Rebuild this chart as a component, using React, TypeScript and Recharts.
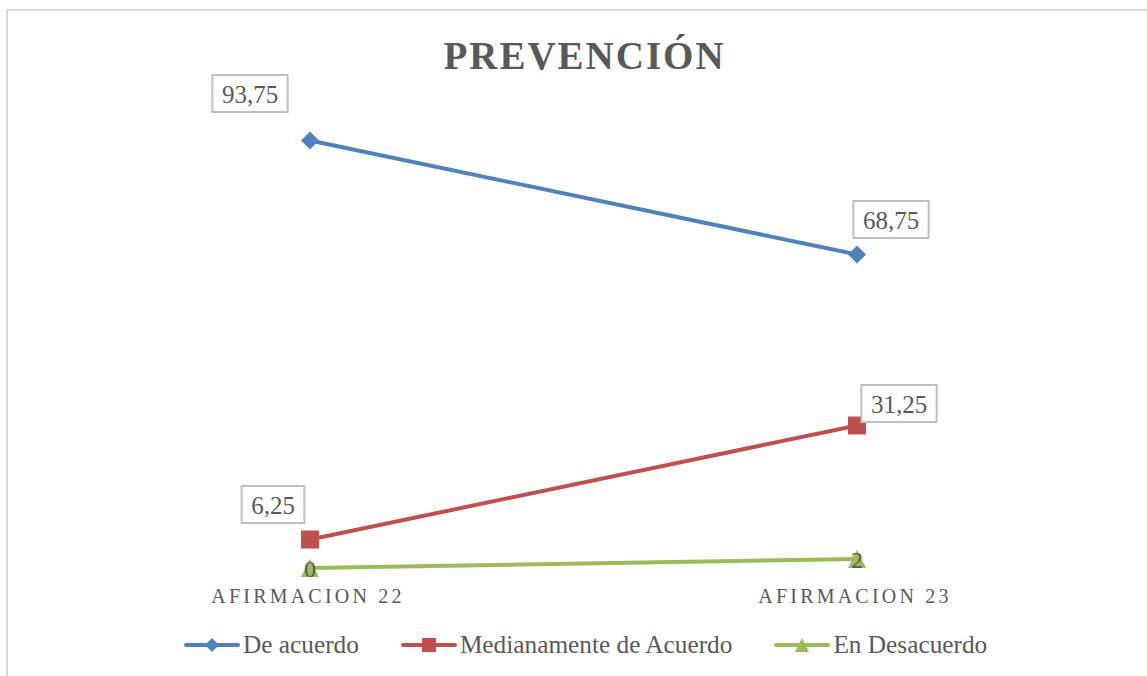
import { LineChart, Line, XAxis, YAxis, LabelList } from "recharts";

// categorías y series
const categories = ["AFIRMACION 22", "AFIRMACION 23"];
const deAcuerdo = [93.75, 68.75];
const medianamente = [6.25, 31.25];
const enDesacuerdo = [0, 2];

const seriesNames = ["De acuerdo", "Medianamente de Acuerdo", "En Desacuerdo"];

const data = categories.map((cat, i) => ({
  cat,
  a: deAcuerdo[i],
  m: medianamente[i],
  d: enDesacuerdo[i]
}));

const BLUE = "#4F81BD";
const RED = "#C0504D";
const GREEN = "#9BBB59";
const TEXT = "#595959";
const FONT = "'Liberation Serif', 'DejaVu Serif', serif";

const fmt = (v: number) => String(v).replace(".", ",");

// posición de la etiqueta respecto al punto (estilo, no datos)
const labelOffsets: Record<string, [number, number][]> = {
  a: [[-60, -47], [34, -35]],
  m: [[-37, -35], [42, -22]]
};

function boxedLabel(key: string) {
  return (props: any) => {
    const { x, y, value, index } = props;
    const [dx, dy] = labelOffsets[key][index];
    const txt = fmt(value);
    const digits = txt.replace(",", "").length;
    const w = digits * 12.5 + 6.25 + 19;
    const h = 37;
    const cx = x + dx;
    const cy = y + dy;
    return (
      <g>
        <rect x={cx - w / 2} y={cy - h / 2} width={w} height={h} fill="#fff" stroke="#BFBFBF" strokeWidth={2} />
        <text x={cx} y={cy + 9} textAnchor="middle" fontSize={25} fontFamily={FONT} fill={TEXT}>
          {txt}
        </text>
      </g>
    );
  };
}

const plainLabel = (props: any) => {
  const { x, y, value } = props;
  return (
    <text x={x} y={y + 9} textAnchor="middle" fontSize={24} fontFamily={FONT} fill={TEXT}>
      {fmt(value)}
    </text>
  );
};

const Diamond = ({ cx, cy, r = 9 }: any) => (
  <path d={`M${cx},${cy - r}L${cx + r},${cy}L${cx},${cy + r}L${cx - r},${cy}Z`} fill={BLUE} />
);
const Square = ({ cx, cy, s = 18 }: any) => (
  <rect x={cx - s / 2} y={cy - s / 2} width={s} height={s} fill={RED} />
);
const Triangle = ({ cx, cy, s = 18 }: any) => (
  <path d={`M${cx},${cy - s / 2}L${cx + s / 2},${cy + s / 2}L${cx - s / 2},${cy + s / 2}Z`} fill={GREEN} />
);

const XTick = ({ x, payload }: any) => (
  <text x={x - 2} y={603} textAnchor="middle" fontSize={20} letterSpacing={3.2} fontFamily={FONT} fill={TEXT}>
    {payload.value}
  </text>
);

function LegendIcon({ color, Marker }: any) {
  return (
    <svg width={56} height={20} style={{ display: "block" }}>
      <line x1={2} y1={10} x2={54} y2={10} stroke={color} strokeWidth={4} strokeLinecap="round" />
      <Marker cx={28} cy={10} r={7} s={14} />
    </svg>
  );
}

export default function App() {
  const legendItems = [
    { name: seriesNames[0], color: BLUE, Marker: Diamond },
    { name: seriesNames[1], color: RED, Marker: Square },
    { name: seriesNames[2], color: GREEN, Marker: Triangle }
  ];

  return (
    <div style={{ position: "absolute", left: 0, top: 0, width: 1147, height: 676, overflow: "hidden", background: "#fff" }}>
      <div
        style={{
          position: "absolute",
          left: 6,
          top: 9,
          width: 1200,
          height: 720,
          border: "2px solid #D9D9D9",
          boxSizing: "border-box"
        }}
      />
      <div
        style={{
          position: "absolute",
          left: 0,
          width: 1169,
          top: 31,
          textAlign: "center",
          fontFamily: FONT,
          fontWeight: "bold",
          fontSize: 39,
          letterSpacing: 2,
          color: TEXT,
          lineHeight: "50px"
        }}
      >
        PREVENCIÓN
      </div>

      <div style={{ position: "absolute", left: 0, top: 0 }}>
        <LineChart width={1147} height={676} data={data} margin={{ top: 112, bottom: 78, left: 310, right: 290 }}>
          <XAxis dataKey="cat" axisLine={false} tickLine={false} tick={<XTick />} height={30} padding={{ left: 0, right: 0 }} />
          <YAxis hide domain={[0, 100]} />
          <Line
            dataKey="d"
            name={seriesNames[2]}
            stroke={GREEN}
            strokeWidth={4}
            dot={(p: any) => <Triangle key={p.index} cx={p.cx} cy={p.cy} />}
            activeDot={false}
            isAnimationActive={false}
          >
            <LabelList dataKey="d" content={plainLabel} />
          </Line>
          <Line
            dataKey="m"
            name={seriesNames[1]}
            stroke={RED}
            strokeWidth={4}
            dot={(p: any) => <Square key={p.index} cx={p.cx} cy={p.cy} />}
            activeDot={false}
            isAnimationActive={false}
          >
            <LabelList dataKey="m" content={boxedLabel("m")} />
          </Line>
          <Line
            dataKey="a"
            name={seriesNames[0]}
            stroke={BLUE}
            strokeWidth={4}
            dot={(p: any) => <Diamond key={p.index} cx={p.cx} cy={p.cy} />}
            activeDot={false}
            isAnimationActive={false}
          >
            <LabelList dataKey="a" content={boxedLabel("a")} />
          </Line>
        </LineChart>
      </div>

      {/* leyenda manual */}
      <div
        style={{
          position: "absolute",
          left: 184,
          top: 630,
          display: "flex",
          alignItems: "center",
          fontFamily: FONT,
          fontSize: 25.3,
          color: TEXT
        }}
      >
        {legendItems.map((it) => (
          <span key={it.name} style={{ display: "inline-flex", alignItems: "center", marginRight: 42 }}>
            <LegendIcon color={it.color} Marker={it.Marker} />
            <span style={{ marginLeft: 3 }}>{it.name}</span>
          </span>
        ))}
      </div>
    </div>
  );
}
